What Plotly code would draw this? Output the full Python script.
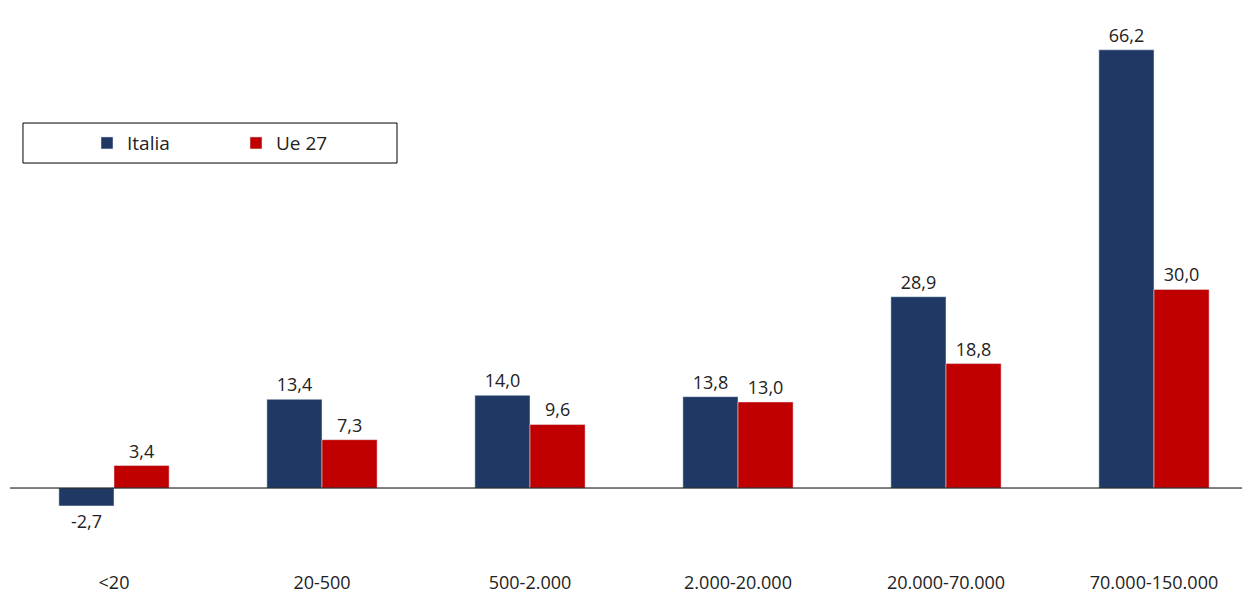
import plotly.graph_objects as go

categories = ["<20", "20-500", "500-2.000", "2.000-20.000", "20.000-70.000", "70.000-150.000"]
italia = [-2.7, 13.4, 14.0, 13.8, 28.9, 66.2]
ue27 = [3.4, 7.3, 9.6, 13.0, 18.8, 30.0]


def fmt(v):
    return f"{v:.1f}".replace(".", ",")


fig = go.Figure()
fig.add_bar(x=categories, y=italia, name="Italia", marker_color="#203864",
            text=[fmt(v) for v in italia], textposition="outside",
            textfont=dict(size=18, color="#222"), cliponaxis=False)
fig.add_bar(x=categories, y=ue27, name="Ue 27", marker_color="#C00000",
            text=[fmt(v) for v in ue27], textposition="outside",
            textfont=dict(size=18, color="#222"), cliponaxis=False)

fig.update_layout(
    width=1250, height=597,
    margin=dict(l=2, r=0, t=3, b=57),
    plot_bgcolor="white", paper_bgcolor="white",
    font=dict(family="Open Sans, Liberation Sans, sans-serif", size=18, color="#222"),
    barmode="group", bargap=0.47, bargroupgap=0,
    xaxis=dict(showgrid=False, ticks="", tickfont=dict(size=18), ticklabelstandoff=22),
    yaxis=dict(range=[-9.06, 72.06], visible=False, zeroline=True),
    legend=dict(orientation="h", x=0.0617, y=0.754, xanchor="left", yanchor="middle",
                borderwidth=0, font=dict(size=19), bgcolor="rgba(0,0,0,0)",
                itemwidth=30, entrywidth=104, traceorder="normal"),
    showlegend=True,
)
fig.add_shape(type="line", xref="paper", yref="y", x0=0, x1=1, y0=0, y1=0,
              line=dict(color="black", width=1))
# legend frame
fig.add_shape(type="rect", xref="paper", yref="paper", x0=0.0104, x1=0.3101,
              y0=0.7169, y1=0.7914, line=dict(color="black", width=1))

fig.write_html("out.html")
